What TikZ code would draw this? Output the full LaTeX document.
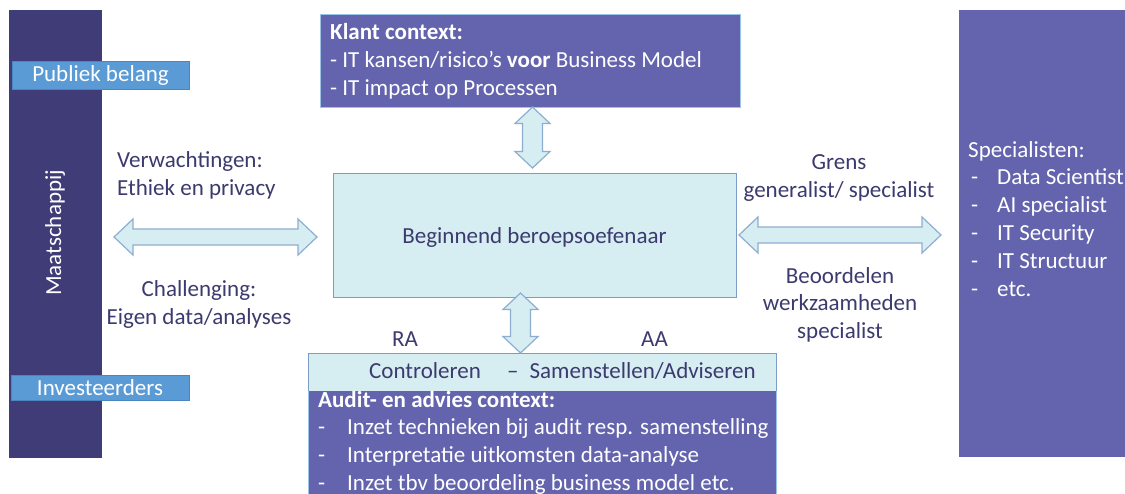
\documentclass[tikz,border=0pt]{standalone}
\usepackage{fontspec}
\setmainfont{Carlito}
\usetikzlibrary{calc}

\definecolor{navybar}{HTML}{3F3C78}
\definecolor{violetbox}{HTML}{6464AE}
\definecolor{tagblue}{HTML}{5B9BD5}
\definecolor{tagedge}{HTML}{4A86C0}
\definecolor{paleaqua}{HTML}{D6EEF2}
\definecolor{aquaedge}{HTML}{7B9CC4}
\definecolor{arrowedge}{HTML}{8EAED0}
\definecolor{inktext}{HTML}{3C3A6E}
\definecolor{thinedge}{HTML}{9DC3E6}

\newcommand{\mainsize}{\fontsize{23}{27.8}\selectfont}

% vertical double block arrow: x, top tip y, bottom tip y
\newcommand{\vblockarrow}[3]{%
  \draw[blockarrow] (#1,#2) -- ({#1+17.5},{#2+16.5}) -- ({#1+10},{#2+16.5})
    -- ({#1+10},{#3-16.5}) -- ({#1+17.5},{#3-16.5}) -- (#1,#3)
    -- ({#1-17.5},{#3-16.5}) -- ({#1-10},{#3-16.5}) -- ({#1-10},{#2+16.5})
    -- ({#1-17.5},{#2+16.5}) -- cycle;}
% horizontal double block arrow: left tip x, right tip x, y
\newcommand{\hblockarrow}[3]{%
  \draw[blockarrow] (#1,#3) -- ({#1+19},{#3-18}) -- ({#1+19},{#3-8})
    -- ({#2-19},{#3-8}) -- ({#2-19},{#3-18}) -- (#2,#3)
    -- ({#2-19},{#3+18}) -- ({#2-19},{#3+8}) -- ({#1+19},{#3+8})
    -- ({#1+19},{#3+18}) -- cycle;}

\tikzset{
  x=1pt, y=-1pt,
  blockarrow/.style={fill=paleaqua, draw=arrowedge, line width=1.2pt, line join=miter},
  darkpanel/.style={fill=navybar, draw=none},
  violetpanel/.style={fill=violetbox, draw=thinedge, line width=0.8pt},
  tagbox/.style={fill=tagblue, draw=tagedge, line width=0.8pt},
  aquabox/.style={fill=paleaqua, draw=aquaedge, line width=1pt},
  whitetxt/.style={text=white, font=\mainsize, inner sep=0pt},
  inktxt/.style={text=inktext, font=\mainsize, inner sep=0pt},
}

\begin{document}
\begin{tikzpicture}
\useasboundingbox (0,0) rectangle (1125,493);
\clip (0,0) rectangle (1125,493);
\fill[white] (0,0) rectangle (1125,493);

% society bar on the left
\path[darkpanel] (9,10) rectangle (102,458);
\node[whitetxt, rotate=90] (society) at (55,233) {Maatschappij};
\draw[tagbox] (12,61) rectangle (189,89);
\node[whitetxt] (publicint) at (100.5,75) {Publiek belang};
\draw[tagbox] (11,375) rectangle (189,400);
\node[whitetxt] (investors) at (100,387.5) {Investeerders};

% specialists panel on the right (node placed at its last baseline)
\path[fill=violetbox] (959,10) rectangle (1130,457);
\node[whitetxt, anchor=base west, align=left] (specs) at (968,296)
  {Specialisten:\\
   \makebox[29pt][l]{\hspace{3pt}-}Data Scientist\\
   \makebox[29pt][l]{\hspace{3pt}-}AI specialist\\
   \makebox[29pt][l]{\hspace{3pt}-}IT Security\\
   \makebox[29pt][l]{\hspace{3pt}-}IT Structuur\\
   \makebox[29pt][l]{\hspace{3pt}-}etc.};

% client context
\draw[violetpanel] (320,14) rectangle (740,107);
\node[whitetxt, anchor=base west, align=left] (client) at (330,95)
  {\textbf{Klant context:}\\
   - IT kansen/risico’s \textbf{voor} Business Model\\
   - IT impact op Processen};

% central role
\draw[aquabox] (333,173) rectangle (736,297);
\node[inktxt] (starter) at (534.5,237) {Beginnend beroepsoefenaar};

% audit and advisory context
\draw[aquabox] (308,353) rectangle (776,391);
\path[fill=violetbox] (308,391) rectangle (776,500);
\draw[thinedge, line width=0.8pt] (308,391) -- (308,500) (776,391) -- (776,500);
\node[inktxt, anchor=base west] (control) at (369,378) {Controleren};
\node[inktxt, anchor=base west] (compile) at (507,378) {–\hspace{11pt}Samenstellen/Adviseren};
\node[whitetxt, anchor=base west, align=left] (audit) at (318,490.4)
  {\textbf{Audit- en advies context:}\\
   \makebox[29pt][l]{-}Inzet technieken bij audit resp. samenstelling\\
   \makebox[29pt][l]{-}Interpretatie uitkomsten data-analyse\\
   \makebox[29pt][l]{-}Inzet tbv beoordeling business model etc.};
\node[inktxt, anchor=base] (ra) at (405,346) {RA};
\node[inktxt, anchor=base] (aa) at (654.5,346) {AA};

% block arrows between the panels
\vblockarrow{532.5}{107}{168}
\vblockarrow{520.5}{293}{353}
\hblockarrow{114}{317}{237}
\hblockarrow{739}{941}{235}

% arrow labels (placed at their last baselines)
\node[inktxt, anchor=base west, align=left] (expect) at (117,195)
  {Verwachtingen:\\Ethiek en privacy};
\node[inktxt, anchor=base, align=center] (challenge) at (199,324)
  {Challenging:\\Eigen data/analyses};
\node[inktxt, anchor=base, align=center] (border) at (839,197)
  {Grens\\generalist/ specialist};
\node[inktxt, anchor=base, align=center] (review) at (840,338.6)
  {Beoordelen\\werkzaamheden\\specialist};
\end{tikzpicture}
\end{document}
